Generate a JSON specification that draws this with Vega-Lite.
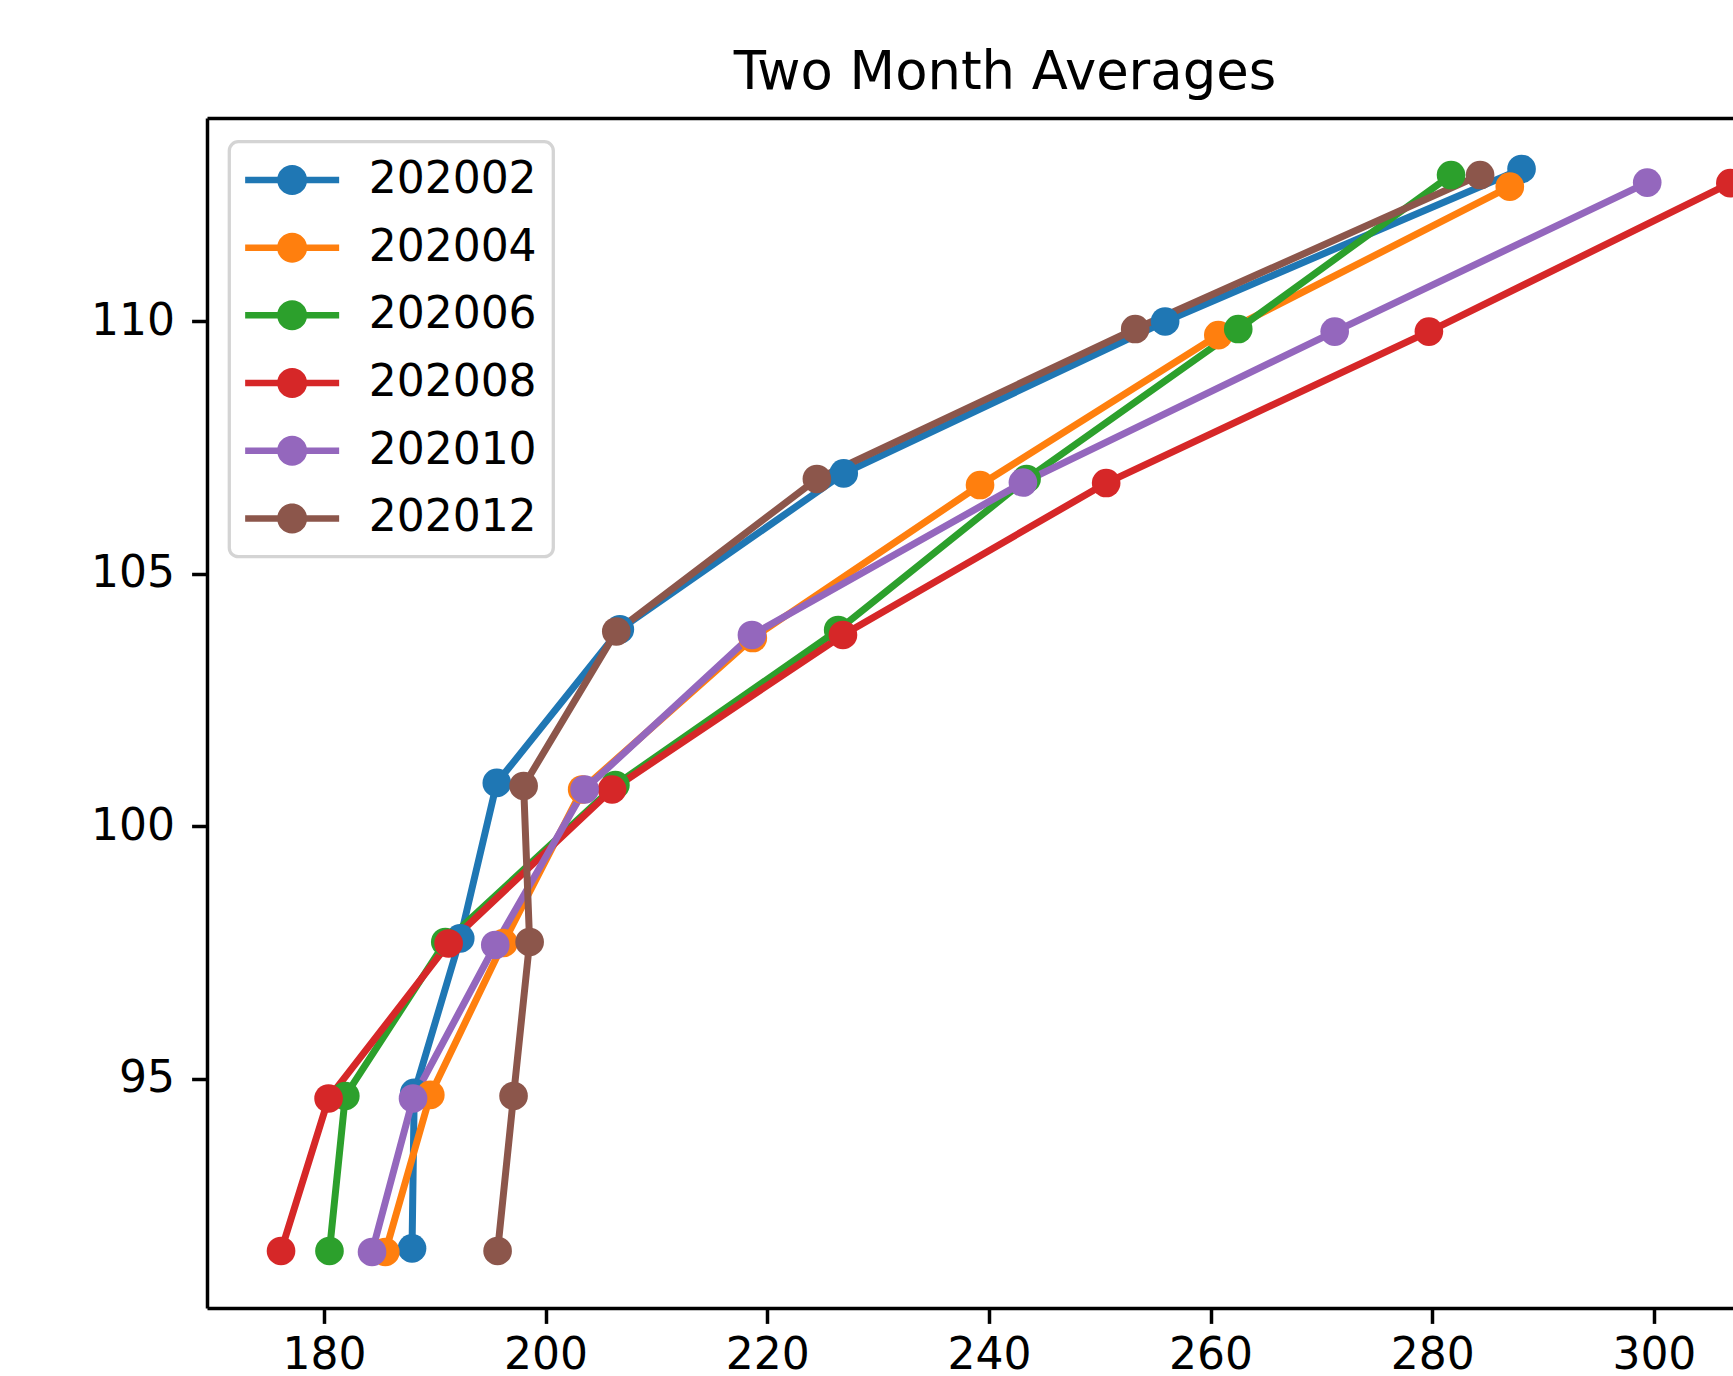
{
  "$schema": "https://vega.github.io/schema/vega-lite/v6.json",
  "width": 1526,
  "height": 1190,
  "autosize": {"type": "none"},
  "padding": {"left": 207, "top": 118, "right": 0, "bottom": 68},
  "background": "white",
  "title": {"text": "Two Month Averages", "fontSize": 52.8, "font": "DejaVu Sans", "fontWeight": "normal", "color": "black", "anchor": "middle", "frame": "group", "dx": 35, "dy": 52, "baseline": "alphabetic", "offset": 28},
  "config": {"view": {"stroke": null}, "font": "DejaVu Sans", "legend": {"strokeWidth": 3.3}},
  "data": {"values": [
    {"series": "202002", "x": 187.95, "y": 91.64},
    {"series": "202002", "x": 188.15, "y": 94.72},
    {"series": "202002", "x": 192.3, "y": 97.78},
    {"series": "202002", "x": 195.6, "y": 100.86},
    {"series": "202002", "x": 206.7, "y": 103.9},
    {"series": "202002", "x": 226.9, "y": 106.99},
    {"series": "202002", "x": 255.9, "y": 110.0},
    {"series": "202002", "x": 288.06, "y": 113.02},
    {"series": "202004", "x": 185.54, "y": 91.57},
    {"series": "202004", "x": 189.6, "y": 94.68},
    {"series": "202004", "x": 196.2, "y": 97.69},
    {"series": "202004", "x": 203.3, "y": 100.73},
    {"series": "202004", "x": 218.7, "y": 103.73},
    {"series": "202004", "x": 239.2, "y": 106.76},
    {"series": "202004", "x": 260.7, "y": 109.73},
    {"series": "202004", "x": 287.0, "y": 112.67},
    {"series": "202006", "x": 180.5, "y": 91.59},
    {"series": "202006", "x": 181.93, "y": 94.66},
    {"series": "202006", "x": 190.95, "y": 97.71},
    {"series": "202006", "x": 206.3, "y": 100.82},
    {"series": "202006", "x": 226.4, "y": 103.89},
    {"series": "202006", "x": 243.4, "y": 106.88},
    {"series": "202006", "x": 262.5, "y": 109.85},
    {"series": "202006", "x": 281.7, "y": 112.9},
    {"series": "202008", "x": 176.13, "y": 91.59},
    {"series": "202008", "x": 180.42, "y": 94.61},
    {"series": "202008", "x": 191.25, "y": 97.68},
    {"series": "202008", "x": 206.0, "y": 100.73},
    {"series": "202008", "x": 226.83, "y": 103.79},
    {"series": "202008", "x": 250.58, "y": 106.8},
    {"series": "202008", "x": 279.7, "y": 109.8},
    {"series": "202008", "x": 306.9, "y": 112.74},
    {"series": "202010", "x": 184.34, "y": 91.57},
    {"series": "202010", "x": 188.04, "y": 94.61},
    {"series": "202010", "x": 195.46, "y": 97.65},
    {"series": "202010", "x": 203.52, "y": 100.73},
    {"series": "202010", "x": 218.62, "y": 103.79},
    {"series": "202010", "x": 243.07, "y": 106.81},
    {"series": "202010", "x": 271.2, "y": 109.8},
    {"series": "202010", "x": 299.4, "y": 112.75},
    {"series": "202012", "x": 195.67, "y": 91.59},
    {"series": "202012", "x": 197.11, "y": 94.66},
    {"series": "202012", "x": 198.56, "y": 97.71},
    {"series": "202012", "x": 198.02, "y": 100.8},
    {"series": "202012", "x": 206.38, "y": 103.86},
    {"series": "202012", "x": 224.48, "y": 106.88},
    {"series": "202012", "x": 253.2, "y": 109.85},
    {"series": "202012", "x": 284.32, "y": 112.9}
  ]},
  "encoding": {
    "color": {"field": "series", "type": "nominal",
      "scale": {"domain": ["202002", "202004", "202006", "202008", "202010", "202012"], "range": ["#1f77b4", "#ff7f0e", "#2ca02c", "#d62728", "#9467bd", "#8c564b"]},
      "legend": {"orient": "none", "legendX": 22.3, "legendY": 23.7, "title": null,
        "symbolType": "M-3.133,-0.217L3.133,-0.217L3.133,0.217L-3.133,0.217Z M-1,0A1,1 0 1,1 1,0A1,1 0 1,1 -1,0Z",
        "symbolSize": 900, "symbolStrokeWidth": 0, "symbolOpacity": 1, "symbolOffset": 24.6,
        "labelOffset": 54.5, "labelLimit": 500, "labelExpr": "datum.label + '\u00a0\u00a0'", "labelFont": "DejaVu Sans", "labelFontSize": 44, "labelColor": "black",
        "rowPadding": 23.7, "padding": 16.25, "strokeColor": "#d4d4d4",
        "fillColor": "rgba(255,255,255,0.8)", "cornerRadius": 9}}
  },
  "layer": [
    {
      "mark": {"type": "line", "strokeWidth": 7},
      "encoding": {
        "x": {"field": "x", "type": "quantitative",
          "scale": {"domain": [169.45, 307.14], "nice": false, "zero": false},
          "axis": {"orient": "bottom", "values": [180, 200, 220, 240, 260, 280, 300], "title": null, "grid": false,
            "domainColor": "black", "domainWidth": 3.5, "tickColor": "black", "tickWidth": 3.5, "tickSize": 15.4,
            "labelFont": "DejaVu Sans", "labelFontSize": 44, "labelColor": "black", "labelPadding": 10, "labelFlush": false, "labelOverlap": false}},
        "y": {"field": "y", "type": "quantitative",
          "scale": {"domain": [90.46, 114.03], "nice": false, "zero": false},
          "axis": {"values": [95, 100, 105, 110], "title": null, "grid": false,
            "domainColor": "black", "domainWidth": 3.5, "tickColor": "black", "tickWidth": 3.5, "tickSize": 15.4,
            "labelFont": "DejaVu Sans", "labelFontSize": 44, "labelColor": "black", "labelPadding": 17, "labelFlush": false, "labelOverlap": false}},
        "order": {"field": "y", "type": "quantitative"}
      }
    },
    {
      "mark": {"type": "point", "filled": true, "size": 820, "opacity": 1},
      "encoding": {
        "x": {"field": "x", "type": "quantitative",
          "axis": {"orient": "top", "labels": false, "ticks": false, "domain": true, "domainColor": "black", "domainWidth": 3.5, "title": null, "grid": false, "minExtent": 0, "maxExtent": 0}},
        "y": {"field": "y", "type": "quantitative"}
      }
    }
  ],
  "resolve": {"axis": {"x": "independent"}}
}
